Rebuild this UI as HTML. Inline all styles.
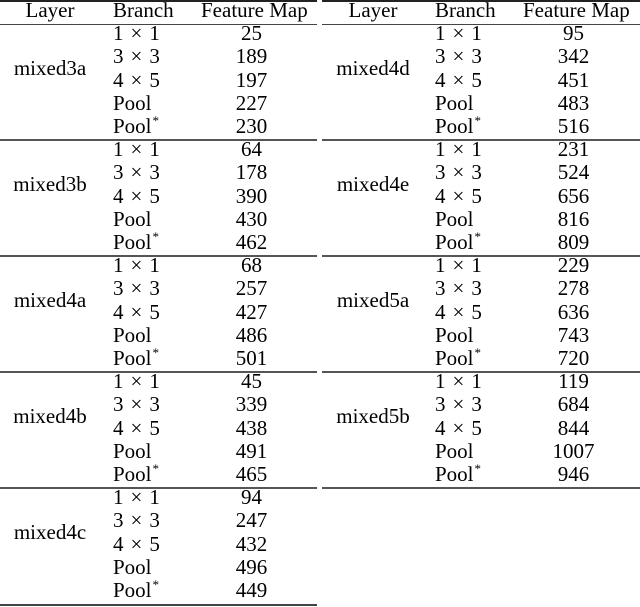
<!DOCTYPE html>
<html>
<head>
<meta charset="utf-8">
<style>
html,body{margin:0;padding:0;background:#fff;font-family:"Liberation Serif","DejaVu Serif",serif;}
#c{position:relative;width:640px;height:607px;overflow:hidden;background:#fff;
font-family:"Liberation Serif","DejaVu Serif",serif;font-size:21px;line-height:21px;color:#000;}
#c div{position:absolute;white-space:nowrap;font-family:"Liberation Serif","DejaVu Serif",serif;}
.l{left:0;width:100px;text-align:center;}
.b{left:113px;}
.f{left:201px;width:101px;text-align:center;}
.l2{left:323px;width:100px;text-align:center;}
.b2{left:435px;}
.f2{left:523px;width:101px;text-align:center;}
.x{margin:0 7px;}
sup{font-size:13px;line-height:0;vertical-align:0;position:relative;top:-8px;margin-left:1px;}
.ln{background:#444;}
</style>
</head>
<body>
<div id="c">
<!-- lines left -->
<div class="ln" style="left:0;top:0;width:317px;height:2px;background:#222"></div>
<div class="ln" style="left:0;top:24px;width:317px;height:1px;"></div>
<div class="ln" style="left:0;top:139px;width:317px;height:2px;background:#555"></div>
<div class="ln" style="left:0;top:255px;width:317px;height:2px;background:#555"></div>
<div class="ln" style="left:0;top:371px;width:317px;height:2px;background:#555"></div>
<div class="ln" style="left:0;top:487px;width:317px;height:2px;background:#555"></div>
<div class="ln" style="left:0;top:604px;width:317px;height:2px;background:#444"></div>
<!-- lines right -->
<div class="ln" style="left:322px;top:0;width:318px;height:2px;background:#222"></div>
<div class="ln" style="left:322px;top:24px;width:318px;height:1px;"></div>
<div class="ln" style="left:322px;top:139px;width:318px;height:2px;background:#555"></div>
<div class="ln" style="left:322px;top:255px;width:318px;height:2px;background:#555"></div>
<div class="ln" style="left:322px;top:371px;width:318px;height:2px;background:#555"></div>
<div class="ln" style="left:322px;top:487px;width:318px;height:2px;background:#555"></div>

<!-- headers -->
<div class="l" style="top:0.4px">Layer</div>
<div class="b" style="top:0.4px">Branch</div>
<div class="f" style="top:0.4px">Feature Map</div>
<div class="l2" style="top:0.4px">Layer</div>
<div class="b2" style="top:0.4px">Branch</div>
<div class="f2" style="top:0.4px">Feature Map</div>

<!-- left group 1 -->
<div class="l" style="top:57.9px">mixed3a</div>
<div class="b" style="top:23.1px">1<span class="x">×</span>1</div><div class="f" style="top:23.1px">25</div>
<div class="b" style="top:46.3px">3<span class="x">×</span>3</div><div class="f" style="top:46.3px">189</div>
<div class="b" style="top:69.5px">4<span class="x">×</span>5</div><div class="f" style="top:69.5px">197</div>
<div class="b" style="top:92.7px">Pool</div><div class="f" style="top:92.7px">227</div>
<div class="b" style="top:115.9px">Pool<sup>*</sup></div><div class="f" style="top:115.9px">230</div>
<!-- left group 2 -->
<div class="l" style="top:173.9px">mixed3b</div>
<div class="b" style="top:139.1px">1<span class="x">×</span>1</div><div class="f" style="top:139.1px">64</div>
<div class="b" style="top:162.3px">3<span class="x">×</span>3</div><div class="f" style="top:162.3px">178</div>
<div class="b" style="top:185.5px">4<span class="x">×</span>5</div><div class="f" style="top:185.5px">390</div>
<div class="b" style="top:208.7px">Pool</div><div class="f" style="top:208.7px">430</div>
<div class="b" style="top:231.9px">Pool<sup>*</sup></div><div class="f" style="top:231.9px">462</div>
<!-- left group 3 -->
<div class="l" style="top:289.9px">mixed4a</div>
<div class="b" style="top:255.1px">1<span class="x">×</span>1</div><div class="f" style="top:255.1px">68</div>
<div class="b" style="top:278.3px">3<span class="x">×</span>3</div><div class="f" style="top:278.3px">257</div>
<div class="b" style="top:301.5px">4<span class="x">×</span>5</div><div class="f" style="top:301.5px">427</div>
<div class="b" style="top:324.7px">Pool</div><div class="f" style="top:324.7px">486</div>
<div class="b" style="top:347.9px">Pool<sup>*</sup></div><div class="f" style="top:347.9px">501</div>
<!-- left group 4 -->
<div class="l" style="top:405.9px">mixed4b</div>
<div class="b" style="top:371.1px">1<span class="x">×</span>1</div><div class="f" style="top:371.1px">45</div>
<div class="b" style="top:394.3px">3<span class="x">×</span>3</div><div class="f" style="top:394.3px">339</div>
<div class="b" style="top:417.5px">4<span class="x">×</span>5</div><div class="f" style="top:417.5px">438</div>
<div class="b" style="top:440.7px">Pool</div><div class="f" style="top:440.7px">491</div>
<div class="b" style="top:463.9px">Pool<sup>*</sup></div><div class="f" style="top:463.9px">465</div>
<!-- left group 5 -->
<div class="l" style="top:521.9px">mixed4c</div>
<div class="b" style="top:487.1px">1<span class="x">×</span>1</div><div class="f" style="top:487.1px">94</div>
<div class="b" style="top:510.3px">3<span class="x">×</span>3</div><div class="f" style="top:510.3px">247</div>
<div class="b" style="top:533.5px">4<span class="x">×</span>5</div><div class="f" style="top:533.5px">432</div>
<div class="b" style="top:556.7px">Pool</div><div class="f" style="top:556.7px">496</div>
<div class="b" style="top:579.9px">Pool<sup>*</sup></div><div class="f" style="top:579.9px">449</div>

<!-- right group 1 -->
<div class="l2" style="top:57.9px">mixed4d</div>
<div class="b2" style="top:23.1px">1<span class="x">×</span>1</div><div class="f2" style="top:23.1px">95</div>
<div class="b2" style="top:46.3px">3<span class="x">×</span>3</div><div class="f2" style="top:46.3px">342</div>
<div class="b2" style="top:69.5px">4<span class="x">×</span>5</div><div class="f2" style="top:69.5px">451</div>
<div class="b2" style="top:92.7px">Pool</div><div class="f2" style="top:92.7px">483</div>
<div class="b2" style="top:115.9px">Pool<sup>*</sup></div><div class="f2" style="top:115.9px">516</div>
<!-- right group 2 -->
<div class="l2" style="top:173.9px">mixed4e</div>
<div class="b2" style="top:139.1px">1<span class="x">×</span>1</div><div class="f2" style="top:139.1px">231</div>
<div class="b2" style="top:162.3px">3<span class="x">×</span>3</div><div class="f2" style="top:162.3px">524</div>
<div class="b2" style="top:185.5px">4<span class="x">×</span>5</div><div class="f2" style="top:185.5px">656</div>
<div class="b2" style="top:208.7px">Pool</div><div class="f2" style="top:208.7px">816</div>
<div class="b2" style="top:231.9px">Pool<sup>*</sup></div><div class="f2" style="top:231.9px">809</div>
<!-- right group 3 -->
<div class="l2" style="top:289.9px">mixed5a</div>
<div class="b2" style="top:255.1px">1<span class="x">×</span>1</div><div class="f2" style="top:255.1px">229</div>
<div class="b2" style="top:278.3px">3<span class="x">×</span>3</div><div class="f2" style="top:278.3px">278</div>
<div class="b2" style="top:301.5px">4<span class="x">×</span>5</div><div class="f2" style="top:301.5px">636</div>
<div class="b2" style="top:324.7px">Pool</div><div class="f2" style="top:324.7px">743</div>
<div class="b2" style="top:347.9px">Pool<sup>*</sup></div><div class="f2" style="top:347.9px">720</div>
<!-- right group 4 -->
<div class="l2" style="top:405.9px">mixed5b</div>
<div class="b2" style="top:371.1px">1<span class="x">×</span>1</div><div class="f2" style="top:371.1px">119</div>
<div class="b2" style="top:394.3px">3<span class="x">×</span>3</div><div class="f2" style="top:394.3px">684</div>
<div class="b2" style="top:417.5px">4<span class="x">×</span>5</div><div class="f2" style="top:417.5px">844</div>
<div class="b2" style="top:440.7px">Pool</div><div class="f2" style="top:440.7px">1007</div>
<div class="b2" style="top:463.9px">Pool<sup>*</sup></div><div class="f2" style="top:463.9px">946</div>
</div>
</body>
</html>
